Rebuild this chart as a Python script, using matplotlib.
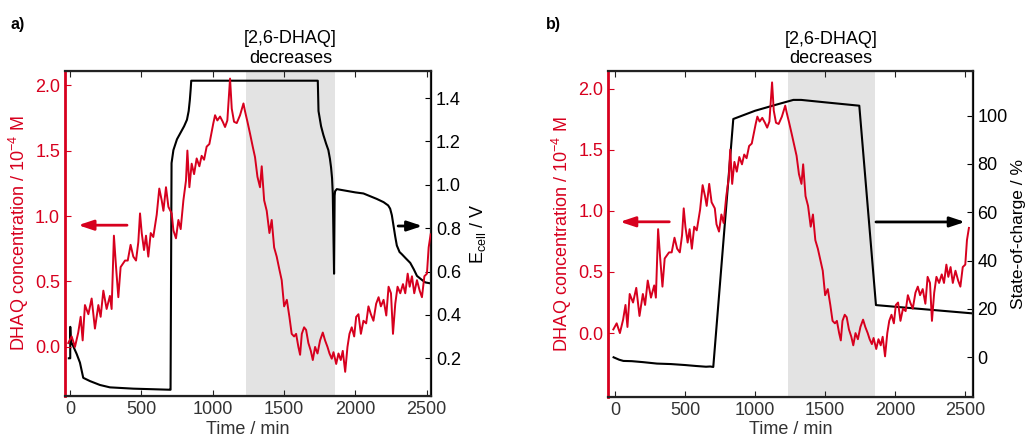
import matplotlib.pyplot as plt
from matplotlib.transforms import blended_transform_factory

plt.rcParams['font.family'] = ['Liberation Sans', 'DejaVu Sans']
plt.rcParams['mathtext.fontset'] = 'custom'
plt.rcParams['mathtext.rm'] = 'Liberation Sans'
plt.rcParams['mathtext.it'] = 'Liberation Sans:italic'

RED = '#d7001e'
GREY_TXT = '#333333'
FS = 13

# DHAQ concentration (1e-4 M) vs time (min), same data in both panels
t_dhaq = [-12, 12, 35, 58, 75, 89, 105, 129, 152, 175, 199, 215, 234, 257, 280, 292,
          308, 323, 339, 355, 386, 405, 425, 444, 463, 479, 491, 503, 519, 533, 549,
          566, 584, 608, 626, 643, 655, 673, 690, 713, 725, 743, 760, 776, 795, 813,
          823, 837, 853, 870, 888, 907, 923, 940, 958, 977, 993, 1005, 1017, 1033,
          1052, 1071, 1087, 1103, 1122, 1134, 1150, 1169, 1192, 1216, 1227, 1244,
          1262, 1281, 1297, 1314, 1332, 1344, 1361, 1379, 1398, 1414, 1431, 1449,
          1468, 1484, 1501, 1520, 1538, 1554, 1571, 1585, 1601, 1613, 1625, 1641,
          1655, 1671, 1688, 1702, 1718, 1735, 1753, 1772, 1788, 1805, 1819, 1835,
          1847, 1866, 1882, 1898, 1912, 1929, 1945, 1959, 1975, 1992, 2006, 2022,
          2039, 2057, 2076, 2092, 2109, 2127, 2146, 2163, 2179, 2198, 2217, 2233,
          2250, 2264, 2280, 2296, 2315, 2334, 2350, 2367, 2381, 2397, 2413, 2432,
          2451, 2467, 2484, 2502, 2514, 2528]
c_dhaq = [0.03, 0.08, 0.00, 0.11, 0.23, 0.05, 0.32, 0.25, 0.37, 0.14, 0.32, 0.23, 0.43,
          0.29, 0.39, 0.29, 0.85, 0.61, 0.38, 0.61, 0.66, 0.66, 0.78, 0.69, 0.66, 0.80,
          1.02, 0.87, 0.74, 0.85, 0.69, 0.87, 0.84, 1.01, 1.21, 1.12, 1.04, 1.22, 1.07,
          1.02, 0.89, 0.83, 0.97, 0.90, 1.12, 1.27, 1.50, 1.22, 1.40, 1.32, 1.44, 1.38,
          1.46, 1.43, 1.53, 1.55, 1.64, 1.71, 1.77, 1.73, 1.76, 1.72, 1.68, 1.73, 2.05,
          1.82, 1.72, 1.71, 1.77, 1.86, 1.80, 1.72, 1.63, 1.53, 1.45, 1.30, 1.22, 1.38,
          1.12, 1.04, 0.87, 0.97, 0.76, 0.69, 0.59, 0.51, 0.31, 0.36, 0.23, 0.10, 0.08,
          0.10, 0.00, -0.06, 0.10, 0.15, 0.13, 0.03, -0.03, -0.10, 0.00, -0.05, 0.05,
          0.11, 0.05, 0.00, -0.05, -0.09, -0.04, -0.13, -0.05, -0.10, -0.03, -0.19,
          0.00, 0.10, 0.15, 0.08, 0.23, 0.25, 0.10, 0.20, 0.18, 0.31, 0.25, 0.20, 0.33,
          0.38, 0.31, 0.36, 0.24, 0.46, 0.41, 0.10, 0.33, 0.46, 0.41, 0.48, 0.41, 0.56,
          0.46, 0.54, 0.41, 0.51, 0.43, 0.38, 0.54, 0.56, 0.76, 0.86]

# cell voltage (V)
t_ecell = [-8, 2, 2, 5, 20, 47, 70, 93, 140, 210, 280, 444, 600, 701, 705, 712, 725,
           750, 775, 800, 820, 832, 840, 846, 850, 1200, 1737, 1742, 1760, 1776, 1795,
           1811, 1822, 1830, 1837, 1842, 1851, 1855, 1858, 1870, 2000, 2057, 2150,
           2198, 2230, 2244, 2256, 2268, 2280, 2291, 2310, 2326, 2355, 2385, 2410,
           2432, 2460, 2490, 2530]
e_cell = [0.20, 0.20, 0.345, 0.28, 0.26, 0.22, 0.18, 0.11, 0.095, 0.077, 0.066, 0.060,
          0.057, 0.055, 0.055, 1.10, 1.16, 1.21, 1.24, 1.27, 1.30, 1.34, 1.39, 1.44,
          1.48, 1.48, 1.48, 1.34, 1.27, 1.23, 1.19, 1.16, 1.12, 1.08, 1.03, 0.96, 0.59,
          0.95, 0.97, 0.98, 0.965, 0.96, 0.935, 0.92, 0.905, 0.89, 0.86, 0.81, 0.76,
          0.72, 0.69, 0.68, 0.66, 0.64, 0.61, 0.58, 0.565, 0.55, 0.545]

# state of charge (%)
t_soc = [-10, 30, 60, 120, 200, 300, 400, 500, 580, 650, 680, 702, 845, 1000, 1150,
         1274, 1330, 1500, 1745, 1864, 2548]
soc = [0.0, -1.0, -1.5, -1.6, -2.0, -2.6, -2.8, -3.2, -3.6, -3.9, -3.8, -4.0, 98.6,
       102.0, 104.5, 106.5, 106.5, 105.5, 104.1, 21.6, 18.2]

span = (1235, 1855)


def style_axes(ax, ax2):
    ax.set_zorder(ax2.get_zorder() + 1)
    ax.patch.set_visible(False)
    ax.spines['left'].set_color(RED)
    ax.spines['left'].set_linewidth(2.0)
    for s in ('top', 'bottom'):
        ax.spines[s].set_color('#222222')
        ax.spines[s].set_linewidth(1.6)
    ax2.spines['right'].set_color('#222222')
    ax2.spines['right'].set_linewidth(1.6)
    ax2.spines['left'].set_visible(False)
    ax.tick_params(axis='y', direction='in', colors=RED, labelsize=FS, length=4)
    ax.tick_params(axis='x', direction='in', colors='#222222', labelcolor=GREY_TXT,
                   labelsize=FS, length=4, top=True)
    ax2.tick_params(axis='y', direction='in', labelsize=FS, length=4)
    ax.set_xticks([0, 500, 1000, 1500, 2000, 2500])
    ax.set_xlabel('Time / min', fontsize=FS, color=GREY_TXT, labelpad=2)
    ax.set_ylabel(r'DHAQ concentration / 10$^{\mathregular{-4}}$ M', fontsize=FS,
                  color=RED, labelpad=3)
    ax2.axvspan(*span, color='#e3e3e3', lw=0, zorder=0)
    tr = blended_transform_factory(ax.transData, ax.transAxes)
    ax.text(sum(span) / 2, 1.012, '[2,6-DHAQ]\ndecreases', transform=tr,
            ha='center', va='bottom', fontsize=FS, linespacing=1.2)


def arrow(axis, x0, x1, y, color):
    axis.annotate('', xy=(x1, y), xytext=(x0, y),
                  arrowprops=dict(arrowstyle='-|>,head_length=0.9,head_width=0.3',
                                  color=color, lw=2, shrinkA=0, shrinkB=0))


fig = plt.figure(figsize=(10.28, 4.42), dpi=100)

# panel a: concentration and cell voltage
ax = fig.add_axes([0.0632, 0.104, 0.356, 0.736])
ax2 = ax.twinx()
style_axes(ax, ax2)
ax.plot(t_dhaq, c_dhaq, color=RED, lw=1.4)
ax2.plot(t_ecell, e_cell, color='black', lw=1.5)
ax.set_xlim(-35, 2530)
ax.set_ylim(-0.375, 2.11)
ax.set_yticks([0.0, 0.5, 1.0, 1.5, 2.0])
ax.yaxis.set_major_formatter(plt.FormatStrFormatter('%.1f'))
ax2.set_ylim(0.026, 1.526)
ax2.set_yticks([0.2, 0.4, 0.6, 0.8, 1.0, 1.2, 1.4])
ax2.yaxis.set_major_formatter(plt.FormatStrFormatter('%.1f'))
ax2.set_ylabel(r'E$_{\mathregular{cell}}$ / V', fontsize=FS, labelpad=5)
arrow(ax, 400, 58, 0.93, RED)
arrow(ax2, 2300, 2470, 0.81, 'black')

# panel b: concentration and state of charge
bx = fig.add_axes([0.5917, 0.1025, 0.3545, 0.736])
bx2 = bx.twinx()
style_axes(bx, bx2)
bx.plot(t_dhaq, c_dhaq, color=RED, lw=1.4)
bx2.plot(t_soc, soc, color='black', lw=1.5)
bx.set_xlim(-48, 2555)
bx.set_ylim(-0.52, 2.14)
bx.set_yticks([0.0, 0.5, 1.0, 1.5, 2.0])
bx.yaxis.set_major_formatter(plt.FormatStrFormatter('%.1f'))
bx2.set_ylim(-16.3, 118.3)
bx2.set_yticks([0, 20, 40, 60, 80, 100])
bx2.set_ylabel('State-of-charge / %', fontsize=12.5, labelpad=2)
arrow(bx, 388, 36, 0.91, RED)
arrow(bx2, 1864, 2500, 56, 'black')

fig.text(0.010, 0.935, 'a)', fontsize=11.5, fontweight='bold')
fig.text(0.531, 0.935, 'b)', fontsize=11.5, fontweight='bold')

fig.savefig('out.png', dpi=100)
